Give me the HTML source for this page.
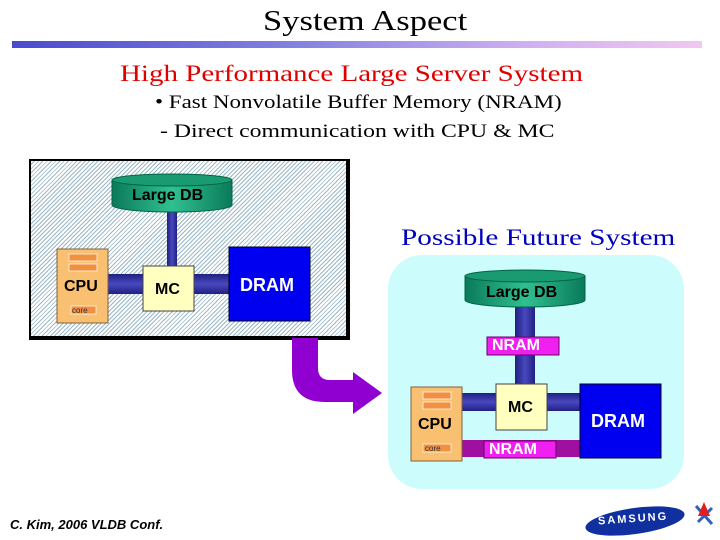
<!DOCTYPE html>
<html><head><meta charset="utf-8"><style>
body{margin:0;width:720px;height:540px;background:#fff;position:relative;overflow:hidden;font-family:"Liberation Sans",sans-serif}
.a{position:absolute}
.serif{font-family:"Liberation Serif","Noto Serif CJK SC",serif;transform-origin:0 0;white-space:nowrap}
.b{font-weight:bold}
</style></head><body>
<div class="a serif" style="left:263px;top:5px;font-size:29px;color:#000;transform:scaleX(1.19)">System Aspect</div>
<div class="a" style="left:12px;top:41px;width:690px;height:7px;background:linear-gradient(90deg,#4a4ad0,#8080e0 40%,#d0b0f0 75%,#f0c8f0)"></div>
<div class="a serif" style="left:120px;top:61px;font-size:23px;color:#e00000;transform:scaleX(1.26)">High Performance Large Server System</div>
<div class="a serif" style="left:155px;top:92px;font-size:19px;transform:scaleX(1.21)">• Fast Nonvolatile Buffer Memory (NRAM)</div>
<div class="a serif" style="left:160px;top:121px;font-size:19px;transform:scaleX(1.25)">- Direct communication with CPU &amp; MC</div>

<!-- left box -->
<div class="a" style="left:29px;top:159px;width:315px;height:175px;border:2px solid #000;border-right-width:4px;border-bottom-width:4px;background:repeating-linear-gradient(135deg,#fff 0 2px,#9ab8c8 2px 3px)"></div>
<svg class="a" style="left:0;top:0" width="720" height="540">
<defs>
<linearGradient id="cy" x1="0" x2="1"><stop offset="0" stop-color="#0a7a5a"/><stop offset=".5" stop-color="#30c090"/><stop offset="1" stop-color="#0a7a5a"/></linearGradient>
<linearGradient id="bv" x1="0" x2="1"><stop offset="0" stop-color="#202080"/><stop offset=".5" stop-color="#4848c0"/><stop offset="1" stop-color="#202080"/></linearGradient>
<linearGradient id="bh" x1="0" y1="0" x2="0" y2="1"><stop offset="0" stop-color="#202080"/><stop offset=".5" stop-color="#4848c0"/><stop offset="1" stop-color="#202080"/></linearGradient>
</defs>
<rect x="167" y="210" width="10" height="60" fill="url(#bv)"/>
<rect x="108" y="274" width="122" height="20" fill="url(#bh)"/>
<path d="M112 180 L112 205 A60 7 0 0 0 232 205 L232 180 Z" fill="url(#cy)" stroke="#064" />
<ellipse cx="172" cy="180" rx="60" ry="6" fill="#1a9a70" stroke="#064"/>
<rect x="57" y="249" width="51" height="74" fill="#f8c070" stroke="#806040"/>
<rect x="69" y="254" width="28" height="7" fill="#f09040" stroke="#fff" stroke-width=".7"/>
<rect x="69" y="264" width="28" height="7" fill="#f09040" stroke="#fff" stroke-width=".7"/>
<rect x="71" y="306" width="25" height="8" fill="#f09040" stroke="#fff" stroke-width=".7"/>
<rect x="143" y="266" width="51" height="45" fill="#ffffc0" stroke="#444"/>
<rect x="229" y="247" width="81" height="74" fill="#0000f0" stroke="#002"/>
<rect x="388" y="255" width="296" height="234" rx="34" fill="#ccfcfc"/>
<rect x="515" y="303" width="20" height="85" fill="url(#bv)"/>
<rect x="460" y="393" width="122" height="18" fill="url(#bh)"/>
<rect x="460" y="440" width="122" height="17" fill="#a010a0"/>
<path d="M465 276 L465 300 A60 7 0 0 0 585 300 L585 276 Z" fill="url(#cy)" stroke="#064"/>
<ellipse cx="525" cy="276" rx="60" ry="6" fill="#1a9a70" stroke="#064"/>
<rect x="487" y="337" width="72" height="18" fill="#f020f0" stroke="#606"/>
<rect x="484" y="441" width="72" height="17" fill="#f020f0" stroke="#606"/>
<rect x="411" y="387" width="51" height="74" fill="#f8c070" stroke="#806040"/>
<rect x="423" y="392" width="28" height="7" fill="#f09040" stroke="#fff" stroke-width=".7"/>
<rect x="423" y="402" width="28" height="7" fill="#f09040" stroke="#fff" stroke-width=".7"/>
<rect x="423" y="444" width="28" height="8" fill="#f09040" stroke="#fff" stroke-width=".7"/>
<rect x="496" y="384" width="51" height="46" fill="#ffffc0" stroke="#444"/>
<rect x="580" y="384" width="81" height="74" fill="#0000f0" stroke="#002"/>
<path d="M292 338 L318 338 L318 368 Q318 380 330 380 L353 380 L353 372 L382 393 L353 414 L353 402 L325 402 Q292 402 292 370 Z" fill="#9000d0"/>
<ellipse cx="635" cy="521" rx="50" ry="13" transform="rotate(-8 635 521)" fill="#1030a0"/>
<path d="M696 506 L712 524 M712 508 L698 522" stroke="#3060c0" stroke-width="3"/>
<path d="M704 502 L710 516 L698 516 Z" fill="#e02020"/>
</svg>
<div class="a b" style="left:132px;top:187px;font-size:16px">Large DB</div>
<div class="a b" style="left:64px;top:278px;font-size:16px">CPU</div>
<div class="a" style="left:72px;top:306px;font-size:8px;color:#333">core</div>
<div class="a b" style="left:155px;top:281px;font-size:16px">MC</div>
<div class="a b" style="left:240px;top:275px;font-size:18px;color:#fff">DRAM</div>
<div class="a serif" style="left:401px;top:225px;font-size:23px;color:#0000c0;transform:scaleX(1.27)">Possible Future System</div>
<div class="a b" style="left:486px;top:284px;font-size:16px">Large DB</div>
<div class="a b" style="left:492px;top:337px;font-size:16px;color:#fff">NRAM</div>
<div class="a b" style="left:508px;top:399px;font-size:16px">MC</div>
<div class="a b" style="left:418px;top:416px;font-size:16px">CPU</div>
<div class="a" style="left:425px;top:444px;font-size:8px;color:#333">core</div>
<div class="a b" style="left:489px;top:441px;font-size:16px;color:#fff">NRAM</div>
<div class="a b" style="left:591px;top:411px;font-size:18px;color:#fff">DRAM</div>
<div class="a b" style="left:10px;top:517px;font-size:13px;font-style:italic">C. Kim, 2006 VLDB Conf.</div>
<div class="a b" style="left:598px;top:513px;font-size:11px;color:#fff;letter-spacing:2px;transform:rotate(-4deg)">SAMSUNG</div>
</body></html>
